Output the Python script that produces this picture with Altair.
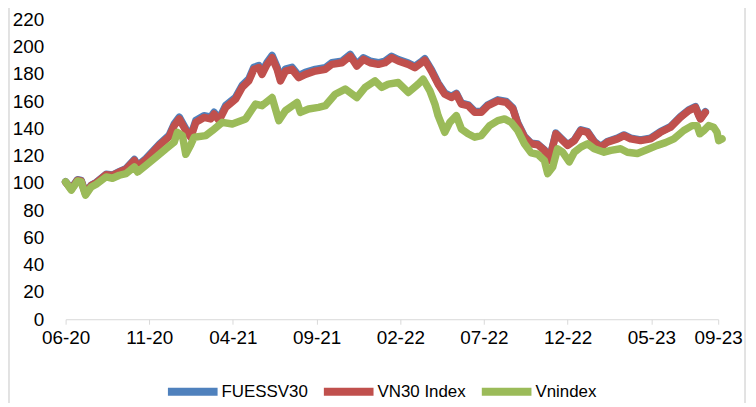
import altair as alt
import pandas as pd

# Month offsets (months since 2020-06) and index values
series_names = ["FUESSV30", "VN30 Index", "Vnindex"]
series_colors = ["#4F81BD", "#C0504D", "#9BBB59"]

t_vn30 = [0, 0.34, 0.71, 0.93, 1.19, 1.53, 1.83, 2.42, 2.80, 3.21,
          3.61, 4.11, 4.30, 4.80, 5.60, 6.19, 6.49, 6.79, 7.18, 7.48,
          7.78, 8.27, 8.67, 8.87, 9.17, 9.57, 10.16, 10.55, 10.95, 11.25,
          11.55, 11.74, 12.04, 12.34, 12.64, 12.84, 13.14, 13.53, 13.93, 14.33,
          14.92, 15.52, 15.91, 16.51, 17.01, 17.40, 17.80, 18.20, 18.69, 19.09,
          19.48, 19.88, 20.48, 20.87, 21.27, 21.47, 21.86, 22.26, 22.66, 23.05,
          23.35, 23.65, 24.05, 24.45, 24.84, 25.24, 25.83, 26.33, 26.73, 27.02,
          27.42, 27.82, 28.21, 28.61, 28.91, 29.30, 29.60, 30.0, 30.40, 30.79,
          31.19, 31.59, 31.98, 32.38, 32.98, 33.37, 33.77, 34.36, 34.96, 35.55,
          36.15, 36.74, 37.24, 37.64, 37.84, 37.94, 38.23]

vn30 = [100.5, 95.5, 102, 101.5, 92, 98, 100, 106, 105.5, 108,
        110, 116.5, 112, 117, 127.5, 134, 142, 146.9, 138.4, 133.5,
        144.4, 148, 146.9, 150.5, 145.7, 155.4, 161.4, 170, 174.8, 183.3,
        184.5, 179.6, 186.9, 191.8, 183.3, 174.8, 182, 183.3, 177.2, 179.6,
        182, 183.3, 186.9, 188.1, 193, 185.7, 190.6, 188.1, 186.9, 188.1,
        191.8, 189.4, 186.9, 184.5, 188.1, 190, 182, 172.4, 165, 162.6,
        165, 157.8, 156.6, 151.7, 151.7, 156.6, 160.2, 159, 154.2, 143.2,
        133.5, 128.7, 128, 123.8, 116.5, 136, 132.3, 127.5, 131, 138.4,
        137.1, 129.9, 126.2, 129.9, 132.3, 134.7, 132.3, 131, 132.3, 137.1,
        140.8, 148, 153, 155.4, 149.3, 146.9, 151.7]

t_fuessv30 = list(t_vn30)

fuessv30 = [100.8, 95.8, 102.3, 101.8, 92.3, 98.3, 100.3, 106.3, 105.8, 108.3,
            110.5, 117.2, 112.6, 117.8, 128.3, 135, 143.2, 148.2, 139.6, 134.6,
            145.7, 149.3, 148.2, 151.8, 147, 156.8, 162.8, 171.4, 176.2, 184.8,
            186, 181.1, 188.4, 193.4, 184.8, 176.3, 183.5, 184.8, 178.7, 181.1,
            183.2, 184.5, 188.1, 189.3, 194.2, 186.9, 191.8, 189.3, 188.1, 189.3,
            192.8, 190.4, 187.9, 185.5, 189.1, 191, 183, 173.3, 165.8, 163.4,
            165.7, 158.5, 157.3, 152.4, 152.4, 157.3, 160.9, 159.7, 154.9, 143.9,
            134, 129.2, 128.5, 124.3, 117, 136.5, 132.8, 128, 131.5, 138.9,
            137.6, 130.4, 126.7, 130.4, 132.8, 135.2, 132.8, 131.5, 132.8, 137.6,
            141.3, 148.5, 153.5, 155.9, 149.8, 147.4, 152.2]

t_vnindex = [0, 0.34, 0.71, 0.93, 1.19, 1.53, 1.83, 2.42, 2.80, 3.21,
             3.61, 4.11, 4.30, 4.80, 5.40, 5.99, 6.49, 6.68, 6.98, 7.18,
             7.48, 7.68, 8.38, 8.77, 9.36, 9.96, 10.76, 11.35, 11.74, 12.34,
             12.74, 13.14, 13.83, 14.03, 14.52, 15.12, 15.52, 16.11, 16.71, 17.40,
             17.90, 18.49, 18.89, 19.29, 19.88, 20.48, 21.07, 21.37, 21.77, 22.07,
             22.26, 22.66, 22.96, 23.35, 23.65, 24.05, 24.45, 24.84, 25.34, 25.83,
             26.23, 26.63, 27.02, 27.42, 27.82, 28.21, 28.61, 28.81, 29.11, 29.40,
             29.70, 30.10, 30.40, 30.79, 31.19, 31.59, 32.18, 32.58, 33.17, 33.57,
             34.17, 34.76, 35.36, 35.85, 36.35, 36.94, 37.44, 37.74, 37.90, 38.14,
             38.43, 38.73, 38.93, 39.03, 39.23]

vnindex = [100.7, 94.7, 101.4, 100.7, 91, 97, 99, 104.4, 103.4, 105.6,
           106.8, 111.7, 108, 112.9, 118.9, 125, 129.9, 137.1, 134.7, 121,
           128, 133.5, 134.7, 138.4, 144.4, 143.2, 146.9, 157.8, 156.6, 162.6,
           145.7, 153, 159, 151.7, 154.2, 155.4, 156.6, 165, 168.8, 162.6,
           170, 174.8, 170, 172.4, 173.6, 166.3, 172.4, 176, 167.5, 157.8,
           149.3, 137.1, 144.4, 149.3, 139.6, 136, 133.5, 134.7, 142, 145.7,
           146.9, 144.4, 138.4, 128.7, 122, 121, 116.5, 106.8, 111.7, 125,
           122.5, 115.4, 122.5, 126.2, 128.7, 125, 122.5, 123.8, 125, 122.5,
           121.5, 124.5, 127.5, 129.5, 132.3, 138.4, 142, 142, 136, 138.4,
           142, 140.8, 137.1, 131, 132.3]

tick_values = [0, 5, 10, 15, 20, 25, 30, 35, 39]
tick_labels = ["06-20", "11-20", "04-21", "09-21", "02-22", "07-22", "12-22", "05-23", "09-23"]
y_ticks = [0, 20, 40, 60, 80, 100, 120, 140, 160, 180, 200, 220]

rows = []
for name, ts, vs in [("FUESSV30", t_fuessv30, fuessv30),
                     ("VN30 Index", t_vn30, vn30),
                     ("Vnindex", t_vnindex, vnindex)]:
    for t, v in zip(ts, vs):
        rows.append({"t": t, "value": v, "series": name})
df = pd.DataFrame(rows)
df["order"] = range(len(df))

label_expr = ""
for v, lab in zip(tick_values, tick_labels):
    label_expr += f"datum.value == {v} ? '{lab}' : "
label_expr += "''"

FONT = "Liberation Sans"

lines = alt.Chart(df).mark_line(
    strokeWidth=7.5, strokeCap="round", strokeJoin="round"
).encode(
    x=alt.X("t:Q",
            scale=alt.Scale(domain=[0, 39], nice=False, zero=False),
            axis=alt.Axis(values=tick_values, labelExpr=label_expr, title=None,
                          grid=False, domainColor="#d9d9d9", tickColor="#d9d9d9",
                          tickSize=5, labelFontSize=19, labelPadding=4,
                          labelFlush=False, labelOverlap=False)),
    y=alt.Y("value:Q",
            scale=alt.Scale(domain=[0, 220], nice=False),
            axis=alt.Axis(values=y_ticks, title=None, grid=False, domain=False,
                          ticks=False, labelFontSize=19, labelPadding=22)),
    color=alt.Color("series:N",
                    scale=alt.Scale(domain=series_names, range=series_colors),
                    legend=alt.Legend(title=None, orient="none", direction="horizontal",
                                      legendX=99, legendY=346,
                                      symbolType="stroke", symbolSize=2500,
                                      symbolStrokeWidth=8, labelFontSize=17,
                                      columnPadding=0, labelOffset=0)),
    order="order:Q",
)

# light grey chart-area frame edges (left and right)
frame = alt.Chart(pd.DataFrame({"edge": [0]})).mark_rule(
    color="#d9d9d9", strokeWidth=1.5
).encode(x=alt.value(-57), y=alt.value(-18), y2=alt.value(395))
frame_r = alt.Chart(pd.DataFrame({"edge": [0]})).mark_rule(
    color="#d9d9d9", strokeWidth=1.5
).encode(x=alt.value(684), y=alt.value(-18), y2=alt.value(395))

chart = alt.layer(frame, frame_r, lines).properties(
    width=657, height=302,
    padding={"left": 58, "top": 10, "right": 30, "bottom": 83},
    autosize=alt.AutoSizeParams(type="none"),
).configure(
    font=FONT,
).configure_axis(
    labelFont=FONT, labelColor="#000000",
).configure_legend(
    labelFont=FONT, labelColor="#000000",
).configure_view(
    stroke=None,
)

chart.save("out.html", embed_options={"renderer": "svg", "actions": False})
